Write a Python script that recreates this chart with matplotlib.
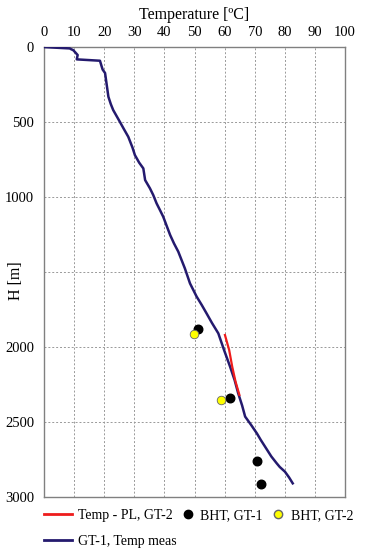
import matplotlib.pyplot as plt
from matplotlib.lines import Line2D
from matplotlib.legend_handler import HandlerLine2D

# GT-1 measured temperature log
gt1_temp = [0, 8.6, 9.0, 9.7, 10.4, 11.2, 10.9, 18.6, 19.2, 19.5, 20.3, 21.4, 22.2,
            23.0, 25.2, 26.5, 28.0, 29.4, 30.2, 31.6, 33.0, 33.6, 35.2, 36.3, 37.4,
            38.6, 39.6, 40.9, 41.9, 43.2, 44.6, 45.7, 46.8, 48.5, 50.7, 52.4, 54.0,
            55.8, 57.9, 59.8, 61.8, 63.3, 64.5, 65.8, 66.8, 68.8, 70.7, 72.0, 73.4,
            75.5, 77.3, 78.3, 80.0, 81.4, 82.6]
gt1_depth = [0, 9, 14, 20, 35, 53, 82, 91, 131, 150, 173, 331, 380,
             420, 498, 545, 598, 670, 720, 770, 809, 887, 942, 987, 1042,
             1090, 1131, 1200, 1253, 1310, 1364, 1420, 1476, 1576, 1664, 1720, 1776,
             1840, 1909, 2020, 2131, 2220, 2309, 2390, 2464, 2520, 2576, 2620, 2664,
             2730, 2776, 2800, 2831, 2870, 2909]

# Temp - PL, GT-2
pl_temp = [60.1, 61.5, 62.5, 63.6, 64.9]
pl_depth = [1920, 2020, 2130, 2230, 2320]

# BHT points
bht1_temp = [51.0, 61.9, 70.9, 72.0]
bht1_depth = [1882, 2342, 2760, 2916]
bht2_temp = [49.9, 58.8]
bht2_depth = [1916, 2353]


class DotRight(HandlerLine2D):
    # put the legend dot right next to its text
    def get_xdata(self, legend, xdescent, ydescent, width, height, fontsize):
        x = width - xdescent - 0.45 * fontsize
        return [x], [x]


plt.rcParams['font.family'] = ['Liberation Serif', 'DejaVu Serif']
fig = plt.figure(figsize=(3.66, 5.5), dpi=100)
ax = fig.add_axes([0.120, 0.0964, 0.823, 0.818])

navy = "#241a6e"
red = "#ee1c1c"
ax.plot(gt1_temp, gt1_depth, color=navy, lw=1.8, zorder=3)
ax.plot(pl_temp, pl_depth, color=red, lw=1.6, zorder=4)
ax.scatter(bht1_temp, bht1_depth, s=38, color="black", zorder=5)
ax.scatter(bht2_temp, bht2_depth, s=38, color="#ffff00", edgecolor="#666666", lw=0.6,
           zorder=5)

ax.set_xlim(0, 100)
ax.set_ylim(3000, 0)
ax.set_xticks(range(0, 101, 10))
ax.set_yticks(range(0, 3001, 500))
ax.set_yticklabels(["0", "500", "1000", "", "2000", "2500", "3000"])
ax.xaxis.tick_top()
ax.xaxis.set_label_position("top")
ax.set_xlabel("Temperature [ºC]", fontsize=11.5, labelpad=5)
ax.set_ylabel("H [m]", fontsize=11.5)
ax.yaxis.set_label_coords(-0.065, 0.482)
ax.tick_params(length=0, labelsize=10.5)
ax.tick_params(axis="x", pad=6)
ax.tick_params(axis="y", pad=7)
ax.grid(True, ls=(0, (2, 2)), color="#999999", lw=0.7)
for s in ax.spines.values():
    s.set_color("#808080")
    s.set_linewidth(1)

red_h = Line2D([], [], color=red, lw=2)
black_h = Line2D([], [], marker="o", ls="", color="black", markersize=6)
yellow_h = Line2D([], [], marker="o", ls="", color="#ffff00", markeredgecolor="#666666",
                  markersize=6)
navy_h = Line2D([], [], color=navy, lw=2)

dot = DotRight()
fig.legend([red_h, black_h, yellow_h], ["Temp - PL, GT-2", "BHT, GT-1", "BHT, GT-2"],
           ncol=3, loc="upper left", bbox_to_anchor=(0.12, 0.074),
           handler_map={black_h: dot, yellow_h: dot},
           frameon=False, fontsize=10, handlelength=2.0, handletextpad=0.45,
           columnspacing=-0.45, borderpad=0, borderaxespad=0)
fig.legend([navy_h], ["GT-1, Temp meas"], loc="upper left", bbox_to_anchor=(0.12, 0.028),
           frameon=False, fontsize=10, handlelength=2.0, handletextpad=0.45,
           borderpad=0, borderaxespad=0)

plt.savefig("out.png")
